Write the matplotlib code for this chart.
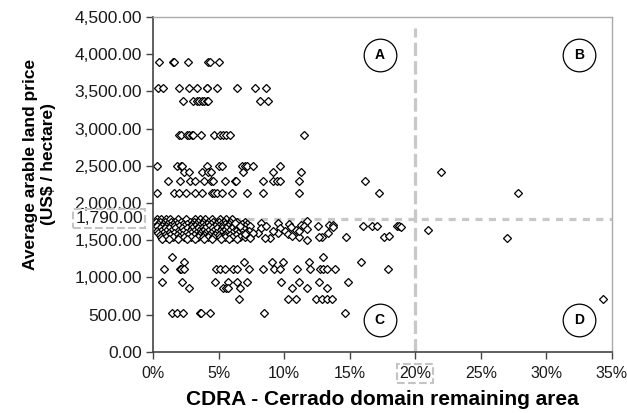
import numpy as np
import matplotlib
matplotlib.use("Agg")
from matplotlib import pyplot as plt
from matplotlib.ticker import FuncFormatter, MultipleLocator

plt.rcParams['font.family'] = ['Liberation Sans', 'DejaVu Sans']

# price levels (US$/ha) with CDRA values (%)
x_3900 = [0.48, 1.55, 1.6, 2.64, 4.17, 4.34, 5.0]
x_3550 = [0.41, 0.79, 2.0, 2.77, 3.33, 4.09, 4.12, 4.9, 6.38, 7.77, 8.61]
x_3370 = [2.26, 3.07, 3.33, 3.53, 3.71, 3.89, 4.09, 4.22, 8.16, 8.79]
x_2910 = [2.0, 2.11, 2.62, 2.77, 2.95, 3.07, 3.66, 4.65, 5.11, 5.36, 5.54, 5.87, 11.53]
x_2500 = [0.33, 1.8, 2.11, 2.19, 4.09, 5.05, 5.24, 6.76, 7.01, 7.14, 7.65, 9.68]
x_2420 = [2.36, 2.74, 3.76, 4.22, 4.4, 6.88, 9.17, 11.28, 21.95]
x_2290 = [1.17, 2.06, 2.82, 3.2, 3.89, 4.4, 4.55, 5.49, 6.25, 6.33, 8.41, 9.17, 9.43,
          9.68, 11.15, 16.16]
x_2140 = [0.33, 1.63, 1.98, 2.52, 3.2, 3.71, 4.47, 4.65, 4.9, 5.24, 6.0, 7.14, 8.36,
          11.15, 17.2, 27.85]
x_1780 = [0.3, 0.6, 1.0, 1.3, 1.9, 2.5, 3.2, 3.6, 4.0, 4.5, 5.1, 5.6, 6.0]
x_1750 = [0.2, 0.5, 0.9, 1.4, 1.7, 2.1, 2.8, 3.1, 3.4, 3.8, 4.2, 4.6, 5.0, 5.4, 5.9,
          6.4, 7.0]
x_1720 = [0.4, 0.8, 1.1, 1.5, 1.8, 2.3, 2.6, 3.0, 3.3, 3.7, 4.1, 4.4, 4.8, 5.2, 5.5,
          5.8, 6.2, 6.8, 7.2]
x_1690 = [0.3, 0.7, 1.0, 1.3, 1.6, 2.0, 2.4, 2.9, 3.2, 3.5, 3.9, 4.3, 4.7, 5.0, 5.3,
          5.7, 6.1, 6.5, 7.0, 7.4]
x_1660 = [0.5, 0.9, 1.2, 1.7, 2.2, 2.6, 3.0, 3.4, 3.7, 4.0, 4.5, 4.9, 5.3, 5.6, 6.0,
          6.4, 6.9]
x_1630 = [0.3, 0.6, 1.0, 1.4, 1.9, 2.3, 2.8, 3.1, 3.5, 3.8, 4.2, 4.6, 5.1, 5.4, 5.8,
          6.3, 6.7, 7.3]
x_1600 = [0.4, 0.8, 1.2, 1.6, 2.0, 2.5, 2.9, 3.3, 3.6, 4.0, 4.4, 4.8, 5.2, 5.6, 6.0,
          6.5, 7.1]
x_1570 = [0.5, 0.9, 1.3, 1.8, 2.2, 2.7, 3.1, 3.5, 3.9, 4.3, 4.7, 5.0, 5.5, 5.9, 6.3, 6.8]
x_1540 = [0.6, 1.0, 1.5, 2.0, 2.4, 2.9, 3.4, 3.8, 4.2, 4.6, 5.1, 5.5, 6.0, 6.6, 7.0]
x_1510 = [0.7, 1.2, 1.9, 2.6, 3.2, 3.9, 4.5, 5.2, 5.8, 6.4]
x_1268 = [1.47, 12.98]
x_1205 = [2.39, 6.94, 9.05, 9.93, 11.91, 15.85]
x_1111 = [0.86, 2.06, 2.11, 2.39, 4.8, 5.11, 5.49, 6.12, 6.38, 7.32, 8.41, 9.25, 9.68,
          10.95, 11.97, 12.73, 12.98, 13.24, 13.87, 17.94]
x_937 = [0.66, 2.23, 4.73, 5.74, 6.38, 7.14, 9.76, 11.15, 12.65, 14.89]
x_856 = [2.74, 5.31, 5.56, 5.74, 6.63, 10.57, 11.71, 13.29]
x_707 = [6.58, 10.31, 10.9, 12.42, 12.86, 13.24, 13.67, 34.32]
x_520 = [1.42, 1.8, 2.31, 3.58, 3.63, 4.34, 8.48, 14.63]

level_values = [3900, 3550, 3370, 2910, 2500, 2420, 2290, 2140, 1780, 1750, 1720, 1690,
                1660, 1630, 1600, 1570, 1540, 1510, 1268, 1205, 1111, 937, 856, 707, 520]
level_xs = [x_3900, x_3550, x_3370, x_2910, x_2500, x_2420, x_2290, x_2140, x_1780,
            x_1750, x_1720, x_1690, x_1660, x_1630, x_1600, x_1570, x_1540, x_1510,
            x_1268, x_1205, x_1111, x_937, x_856, x_707, x_520]

# loose points in and around the 1,500-1,790 band
band_x = [6.22, 6.61, 8.26, 8.21, 8.64, 9.53, 9.66, 9.53, 9.15, 10.04, 8.0, 7.62, 8.89,
          8.51, 7.37, 6.99, 10.27, 10.6, 11.15, 11.71, 10.9, 11.15, 10.34, 10.52, 11.74,
          11.28, 11.53, 11.71, 12.55, 13.44, 13.7, 13.31, 12.88, 12.68, 14.71, 13.72,
          16.03, 16.67, 17.05, 18.62, 18.77, 18.88, 17.6, 18.0, 20.94, 27.03]
band_y = [1734, 1689, 1734, 1667, 1689, 1734, 1667, 1599, 1622, 1622, 1599, 1599, 1532,
          1532, 1532, 1577, 1577, 1555, 1541, 1509, 1644, 1622, 1720, 1676, 1765,
          1711, 1689, 1657, 1689, 1711, 1711, 1599, 1541, 1541, 1541, 1684,
          1695, 1695, 1695, 1690, 1695, 1680, 1550, 1560, 1640, 1528]

avg_price = 1790
cdra_limit = 20
quadrants = ['A', 'B', 'C', 'D']
quad_x = [17.3, 32.5, 17.3, 32.5]
quad_y = [3990, 3990, 430, 430]

xs = []
ys = []
for lv, row in zip(level_values, level_xs):
    xs += row
    ys += [lv] * len(row)
xs += band_x
ys += band_y

fig = plt.figure(figsize=(6.27, 4.13), dpi=100)
ax = fig.add_axes([0.244, 0.148, 0.732, 0.811])

ax.plot([cdra_limit, cdra_limit], [0, 4350], color='#c8c8c8', lw=2.3,
        dashes=(4.2, 1.6), zorder=1)
ax.plot([0, 35], [avg_price, avg_price], color='#c8c8c8', lw=2.3,
        dashes=(2.2, 2.0), zorder=1)

ax.plot(xs, ys, 'D', ms=4.3, mfc='white', mec='black', mew=0.9, ls='none', zorder=2)

for lab, qx, qy in zip(quadrants, quad_x, quad_y):
    ax.plot(qx, qy, 'o', ms=23.5, mfc='white', mec='black', mew=0.9, zorder=3)
    ax.text(qx, qy, lab, ha='center', va='center', fontsize=10, fontweight='bold',
            zorder=4)

ax.set_xlim(0, 35)
ax.set_ylim(0, 4500)
ax.xaxis.set_major_locator(MultipleLocator(5))
ax.yaxis.set_major_locator(MultipleLocator(500))
ax.xaxis.set_major_formatter(FuncFormatter(lambda v, p: '%d%%' % v))
ax.yaxis.set_major_formatter(FuncFormatter(lambda v, p: '{:,.2f}'.format(v)))
ax.tick_params(axis='both', labelsize=12.5, direction='out', length=5, width=1,
               color='#444444', labelcolor='#1a1a1a')
ax.tick_params(axis='x', pad=5, labelsize=11.5)
ax.tick_params(axis='y', pad=3)

for s in ['left', 'bottom']:
    ax.spines[s].set_color('#444444')
    ax.spines[s].set_linewidth(1.2)
for s in ['top', 'right']:
    ax.spines[s].set_color('#aaaaaa')
    ax.spines[s].set_linewidth(1)

# highlighted reference values on the axes
box = dict(boxstyle='square,pad=0.12', fc='none', ec='#c4c4c4', lw=1.5, ls='--')
ax.text(-0.75, avg_price, '{:,.2f}'.format(avg_price), ha='right', va='center',
        fontsize=12.5, color='#1a1a1a', bbox=box)
fig.canvas.draw()
for t in ax.get_xticklabels():
    if t.get_text() == '20%':
        t.set_bbox(box)

ax.set_xlabel('CDRA - Cerrado domain remaining area', fontsize=15, fontweight='bold',
              labelpad=7)
ax.set_ylabel('Average arable land price\n(US$ / hectare)', fontsize=12.5,
              fontweight='bold')
ax.yaxis.set_label_coords(-0.212, 0.561)

fig.savefig('out.png', dpi=100)
